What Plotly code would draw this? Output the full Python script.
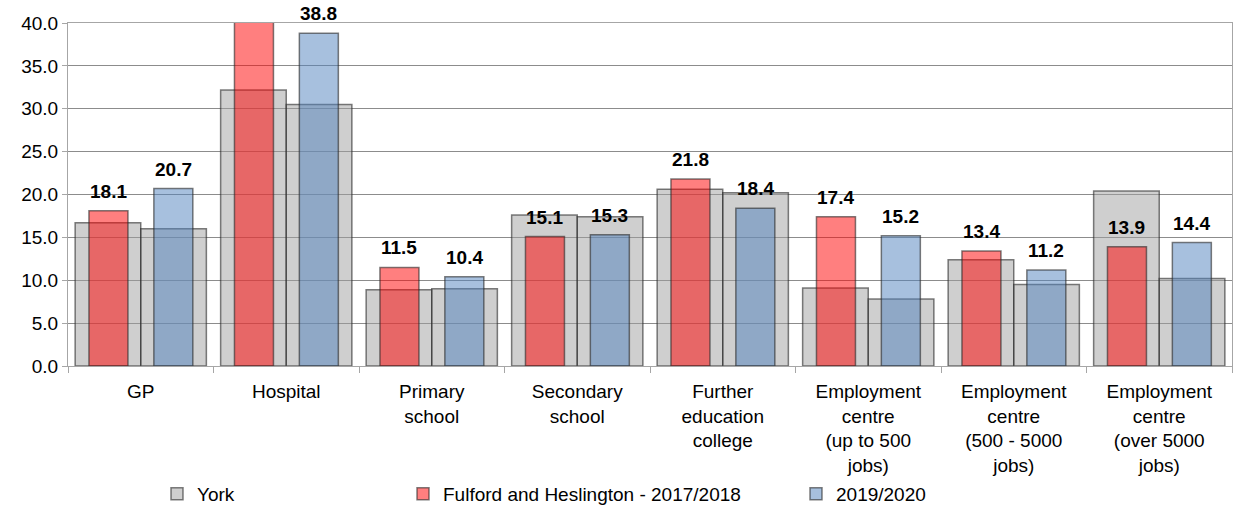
import plotly.graph_objects as go

categories = [
    "GP", "Hospital", "Primary<br>school", "Secondary<br>school",
    "Further<br>education<br>college",
    "Employment<br>centre<br>(up to 500<br>jobs)",
    "Employment<br>centre<br>(500 - 5000<br>jobs)",
    "Employment<br>centre<br>(over 5000<br>jobs)",
]
york_2017 = [16.7, 32.2, 8.9, 17.6, 20.6, 9.1, 12.4, 20.4]
york_2019 = [16.0, 30.5, 9.0, 17.4, 20.2, 7.8, 9.5, 10.2]
fulford_2017 = [18.1, 44.0, 11.5, 15.1, 21.8, 17.4, 13.4, 13.9]
fulford_2019 = [20.7, 38.8, 10.4, 15.3, 18.4, 15.2, 11.2, 14.4]
y_ticks = [0, 5, 10, 15, 20, 25, 30, 35, 40]
y_max = 40

W, H = 1234, 510
ML, MR, MT, MB = 68, 2, 23, 144
plot_w = W - ML - MR
cat_px = plot_w / len(categories)

FONT = "Liberation Sans, Arial, sans-serif"
FS = 19
grey_fill = "rgba(160,160,160,0.5)"
red_fill = "rgba(255,0,0,0.5)"
blue_fill = "rgba(79,129,189,0.5)"
outline = dict(color="rgba(40,40,40,0.6)", width=1.5)

wide_w, narrow_w = 0.451, 0.268
off_g1, off_g2 = -0.451, 0.0
off_r, off_b = -0.356, 0.09

fig = go.Figure()
fig.add_trace(go.Bar(x=categories, y=york_2017, name="York", width=wide_w, offset=off_g1,
                     marker=dict(color=grey_fill, line=outline), legend="legend"))
fig.add_trace(go.Bar(x=categories, y=york_2019, name="York", width=wide_w, offset=off_g2,
                     marker=dict(color=grey_fill, line=outline), showlegend=False, legend="legend"))
fig.add_trace(go.Bar(x=categories, y=fulford_2017, name="Fulford and Heslington - 2017/2018",
                     width=narrow_w, offset=off_r,
                     marker=dict(color=red_fill, line=outline), legend="legend2"))
fig.add_trace(go.Bar(x=categories, y=fulford_2019, name="2019/2020",
                     width=narrow_w, offset=off_b, cliponaxis=False,
                     marker=dict(color=blue_fill, line=outline), legend="legend3"))

annotations = []
for vals, off in ((fulford_2017, off_r), (fulford_2019, off_b)):
    for c, v in zip(categories, vals):
        if v > y_max:
            continue
        annotations.append(dict(
            x=c, y=v, xref="x", yref="y", text=f"<b>{v:.1f}</b>",
            showarrow=False, yanchor="bottom", xanchor="center", borderpad=0,
            xshift=(off + narrow_w / 2) * cat_px, yshift=8,
            font=dict(family=FONT, size=FS, color="black")))

leg_common = dict(orientation="h", yanchor="middle", y=-0.373, xanchor="left",
                  font=dict(family=FONT, size=FS, color="black"),
                  bgcolor="rgba(0,0,0,0)")
fig.update_layout(
    width=W, height=H,
    margin=dict(l=ML, r=MR, t=MT, b=MB, autoexpand=False),
    paper_bgcolor="white", plot_bgcolor="white",
    barmode="overlay",
    font=dict(family=FONT, size=FS, color="black"),
    annotations=annotations,
    legend=dict(x=(157 - ML) / plot_w, **leg_common),
    legend2=dict(x=(403 - ML) / plot_w, **leg_common),
    legend3=dict(x=(796 - ML) / plot_w, **leg_common),
    xaxis=dict(type="category", range=[-0.5, len(categories) - 0.5], automargin=False,
               showline=True, linecolor="#A6A6A6", linewidth=1, mirror=True,
               ticks="outside", tickson="boundaries", ticklen=6, tickcolor="#A6A6A6",
               ticklabelstandoff=8,
               showgrid=False, tickfont=dict(family=FONT, size=FS, color="black")),
    yaxis=dict(range=[0, y_max], tickvals=y_ticks, tickformat=".1f", automargin=False,
               showline=True, linecolor="#A6A6A6", linewidth=1, mirror=True,
               ticks="outside", ticklen=5, tickcolor="#A6A6A6",
               showgrid=True, gridcolor="#8C8C8C", gridwidth=1, zeroline=False,
               tickfont=dict(family=FONT, size=FS, color="black")),
)

# remove the page's default body margin so the figure fills the window like the reference
fig.write_html("out.html", config={"displayModeBar": False},
               post_script="document.body.style.margin = '0';")
